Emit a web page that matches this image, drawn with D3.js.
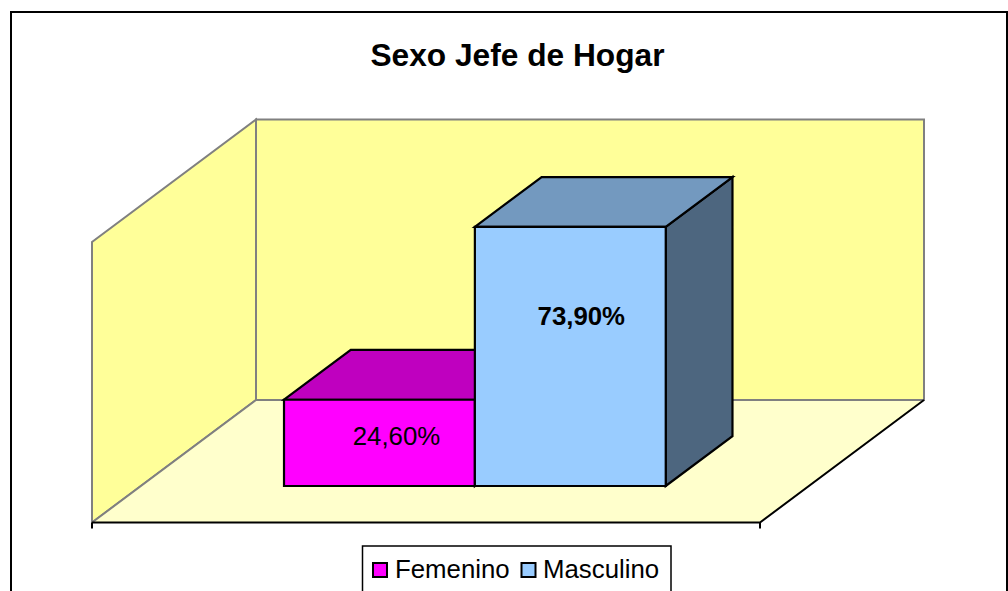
<!DOCTYPE html>
<html><head><meta charset="utf-8">
<style>html,body{margin:0;padding:0;background:#fff;overflow:hidden}svg{display:block}text{font-family:"Liberation Sans",Arial,sans-serif;fill:#000}</style>
<script src="https://cdn.jsdelivr.net/npm/d3@7"></script></head><body>
<script>
const title = "Sexo Jefe de Hogar";
const series = ["Femenino", "Masculino"];
const values = [24.6, 73.9];
const labels = ["24,60%", "73,90%"];
const labelWeights = ["normal", "bold"];
const fronts = ["#ff00ff", "#99ccff"];
const tops = ["#bf00bf", "#7399bf"];
const sides = ["#800080", "#4d667f"];
const W = 1008, H = 591;
const svg = d3.select("body").append("svg").attr("width", W).attr("height", H);
const x = d3.scaleBand().domain(series).range([92, 760]).paddingInner(0).paddingOuter(0.75);
const y = d3.scaleLinear().domain([0, 80]).range([522.5, 242]);
const dx = d3.scaleLinear().domain([0, 1]).range([0, 164]);
const dy = d3.scaleLinear().domain([0, 1]).range([0, -122.5]);
const P = (px, v, d) => [px + dx(d), y(v) + dy(d)];
const poly = (pts, fill, stroke, sw) => svg.append("polygon").attr("points", pts.map(p => p.join(",")).join(" "))
  .attr("fill", fill).attr("stroke", stroke).attr("stroke-width", sw).attr("stroke-linejoin", "miter");
svg.append("rect").attr("x", 11).attr("y", 12).attr("width", 996).attr("height", 600).attr("fill", "#fff").attr("stroke", "#000").attr("stroke-width", 2);
svg.append("text").attr("x", 517.5).attr("y", 65.5).attr("text-anchor", "middle").attr("font-size", 31.7).attr("font-weight", "bold").text(title);
const x0 = x.range()[0], x1 = x.range()[1];
poly([P(x0,0,0),P(x0,80,0),P(x0,80,1),P(x0,0,1)], "#ffff99", "#808080", 2);
poly([P(x0,0,1),P(x0,80,1),P(x1,80,1),P(x1,0,1)], "#ffff99", "#808080", 2);
poly([P(x0,0,0),P(x0,0,1),P(x1,0,1),P(x1,0,0)], "#ffffcc", "none", 0);
svg.append("path").attr("d", d3.line()([P(x0,0,0),P(x0,0,1),P(x1,0,1)])).attr("fill","none").attr("stroke","#808080").attr("stroke-width",2);
svg.append("path").attr("d", d3.line()([P(x1,0,1),P(x1,0,0),P(x0,0,0)])).attr("fill","none").attr("stroke","#000").attr("stroke-width",2);
[x0, x1].forEach(t => svg.append("line").attr("x1", t).attr("x2", t).attr("y1", y(0)).attr("y2", y(0) + 6).attr("stroke", "#000").attr("stroke-width", 2));
const d0 = 0.298, d1 = 0.705;
series.forEach((s, i) => {
  const a = x(s), b = a + x.bandwidth(), v = values[i];
  poly([P(b,0,d0),P(b,v,d0),P(b,v,d1),P(b,0,d1)], sides[i], "#000", 2.2);
  poly([P(a,v,d0),P(a,v,d1),P(b,v,d1),P(b,v,d0)], tops[i], "#000", 2.2);
  poly([P(a,0,d0),P(a,v,d0),P(b,v,d0),P(b,0,d0)], fronts[i], "#000", 2.2);
});
const nudgeX = [17, 11], nudgeY = [1.7, -31.5];
series.forEach((s, i) => {
  const p = P(x(s) + x.bandwidth() / 2, values[i] / 2, d0);
  svg.append("text").attr("x", p[0] + nudgeX[i]).attr("y", p[1] + nudgeY[i]).attr("text-anchor", "middle").attr("font-size", 25.8).attr("font-weight", labelWeights[i]).text(labels[i]);
});
svg.append("rect").attr("x", 362.5).attr("y", 546).attr("width", 308.5).attr("height", 60).attr("fill", "#fff").attr("stroke", "#000").attr("stroke-width", 1.5);
const lx = [373, 521.5], tx = [395, 543];
series.forEach((s, i) => {
  svg.append("rect").attr("x", lx[i]).attr("y", 563).attr("width", 14).attr("height", 14).attr("fill", fronts[i]).attr("stroke", "#000").attr("stroke-width", 2);
  svg.append("text").attr("x", tx[i]).attr("y", 578).attr("font-size", 25.8).text(s);
});
</script></body></html>
